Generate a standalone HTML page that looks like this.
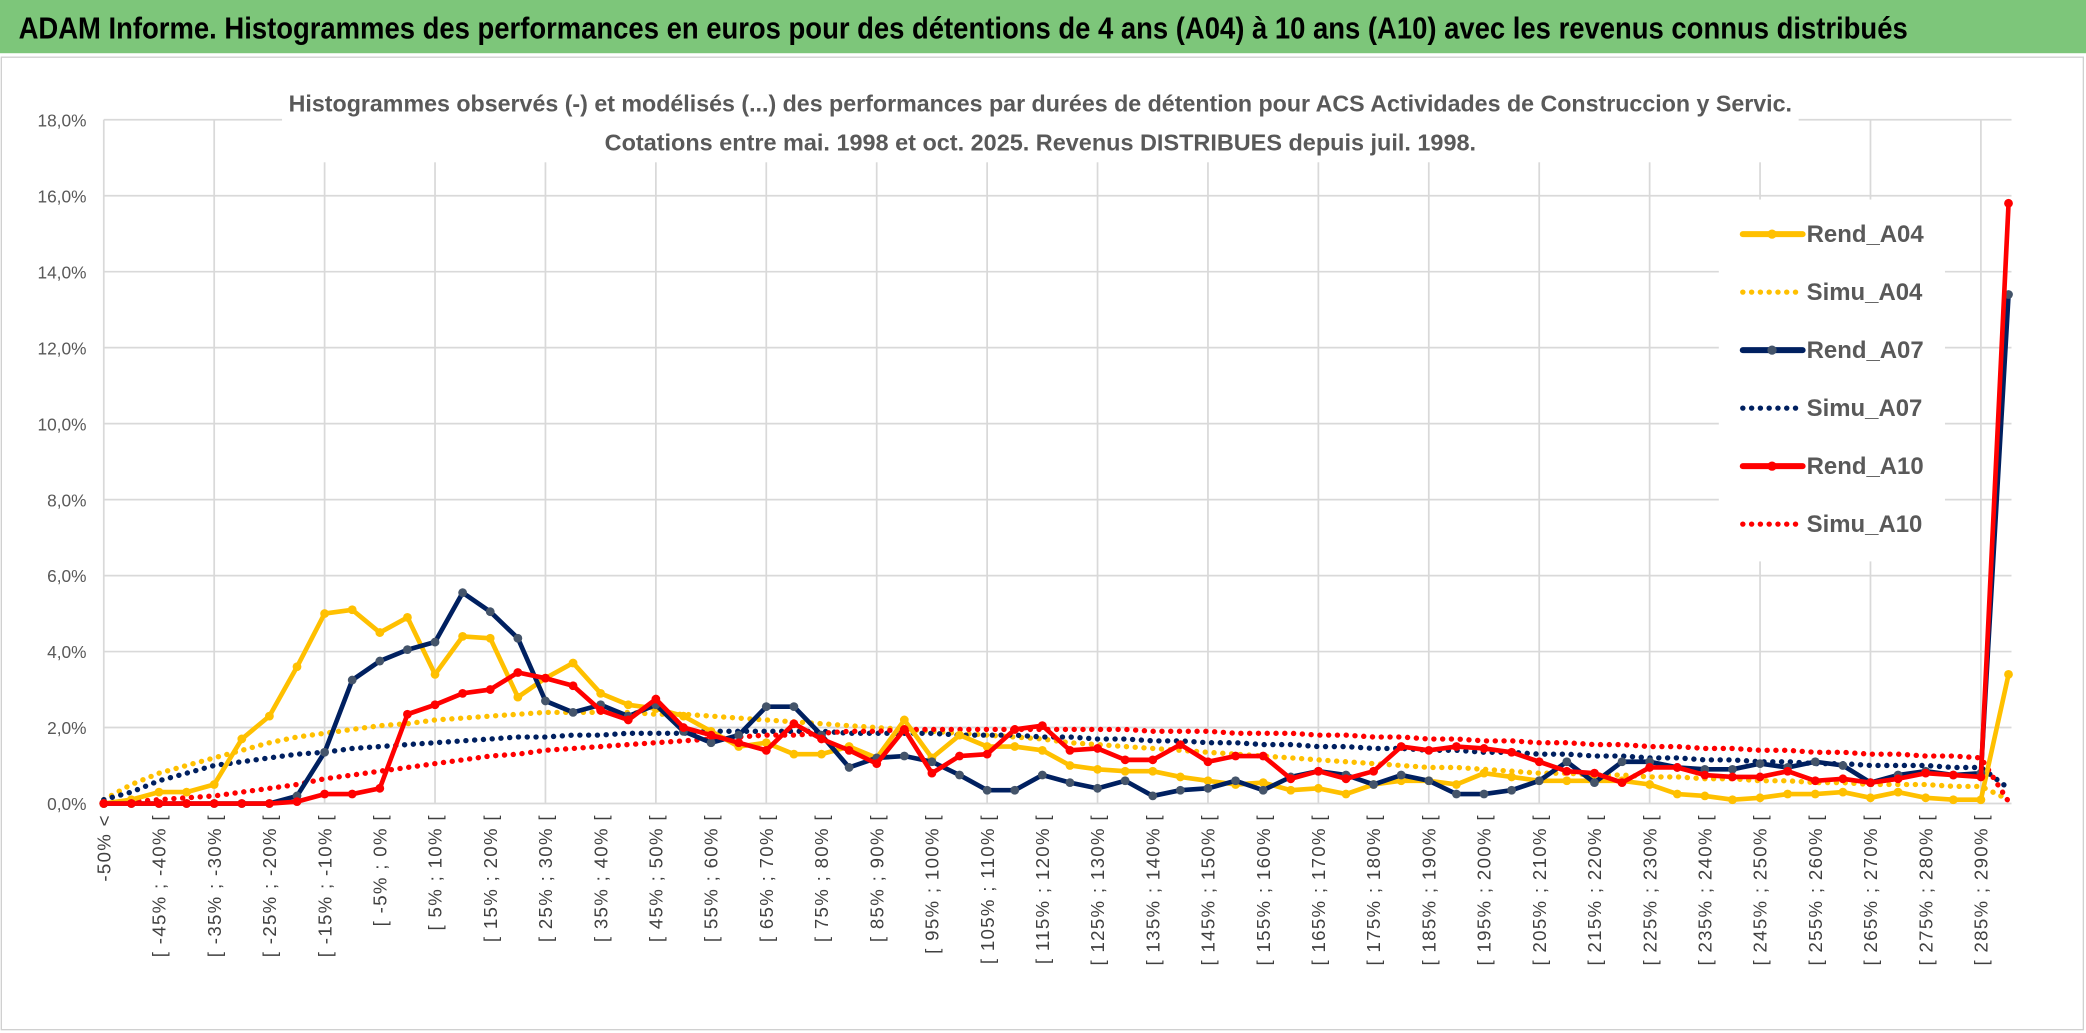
<!DOCTYPE html>
<html><head><meta charset="utf-8"><style>
html,body{margin:0;padding:0;background:#fff;width:2086px;height:1033px;overflow:hidden}
svg{display:block}
text{font-family:"Liberation Sans",sans-serif}
</style></head><body>
<svg id="c" width="2086" height="1033" viewBox="0 0 1568 776.5" preserveAspectRatio="none" xmlns="http://www.w3.org/2000/svg">
<rect x="0" y="0" width="1568" height="776.5" fill="#fff"/>
<rect x="0" y="0" width="1568" height="40" fill="#7DC67A"/>
<text x="14" y="29" font-size="23" font-weight="bold" fill="#000" textLength="1420" lengthAdjust="spacingAndGlyphs">ADAM Informe. Histogrammes des performances en euros pour des détentions de 4 ans (A04) à 10 ans (A10) avec les revenus connus distribués</text>
<rect x="1" y="43" width="1565" height="731" fill="none" stroke="#d0d0d0"/>
<g id="grid"></g>
<g id="yl"></g>
<g id="xl"></g>
<g id="series"></g>
<rect x="212" y="62" width="1140" height="60" fill="#fff"/>
<text x="782" y="84" text-anchor="middle" font-size="17.5" font-weight="bold" fill="#595959" textLength="1130" lengthAdjust="spacingAndGlyphs">Histogrammes observés (-) et modélisés (...) des performances par durées de détention pour ACS Actividades de Construccion y Servic.</text>
<text x="782" y="113" text-anchor="middle" font-size="17.5" font-weight="bold" fill="#595959" textLength="655" lengthAdjust="spacingAndGlyphs">Cotations entre mai. 1998 et oct. 2025. Revenus DISTRIBUES depuis juil. 1998.</text>
<g id="legend"></g>
</svg>
<script>
const categoriesLo = [];
for (let k = 1; k < 70; k++) categoriesLo.push(-50 + 5 * (k - 1));
const yTicks = [0,2,4,6,8,10,12,14,16,18];
const rendA04 = [0,0.1,0.3,0.3,0.5,1.7,2.3,3.6,5.0,5.1,4.5,4.9,3.4,4.4,4.35,2.8,3.3,3.7,2.9,2.6,2.5,2.3,1.9,1.5,1.6,1.3,1.3,1.5,1.2,2.2,1.2,1.8,1.5,1.5,1.4,1.0,0.9,0.85,0.85,0.7,0.6,0.5,0.55,0.35,0.4,0.25,0.5,0.6,0.6,0.5,0.8,0.7,0.6,0.6,0.6,0.6,0.5,0.25,0.2,0.1,0.15,0.25,0.25,0.3,0.15,0.3,0.15,0.1,0.1,3.4];
const rendA07 = [0,0,0,0,0,0,0,0.2,1.35,3.25,3.75,4.05,4.25,5.55,5.05,4.35,2.7,2.4,2.6,2.3,2.6,1.9,1.6,1.8,2.55,2.55,1.8,0.95,1.2,1.25,1.1,0.75,0.35,0.35,0.75,0.55,0.4,0.6,0.2,0.35,0.4,0.6,0.35,0.7,0.85,0.75,0.5,0.75,0.6,0.25,0.25,0.35,0.6,1.1,0.55,1.1,1.1,0.95,0.9,0.9,1.05,0.95,1.1,1.0,0.55,0.75,0.85,0.75,0.8,13.4];
const rendA10 = [0,0,0,0,0,0,0,0.05,0.25,0.25,0.4,2.35,2.6,2.9,3.0,3.45,3.3,3.1,2.45,2.2,2.75,2.0,1.8,1.6,1.4,2.1,1.7,1.4,1.05,1.95,0.8,1.25,1.3,1.95,2.05,1.4,1.45,1.15,1.15,1.55,1.1,1.25,1.25,0.65,0.85,0.65,0.85,1.5,1.4,1.5,1.45,1.35,1.1,0.85,0.8,0.55,0.95,0.95,0.75,0.7,0.7,0.85,0.6,0.65,0.55,0.65,0.8,0.75,0.7,15.8];
const simuA04 = [0.1,0.5,0.8,1.0,1.2,1.4,1.6,1.75,1.85,1.95,2.05,2.1,2.2,2.25,2.3,2.35,2.4,2.4,2.4,2.4,2.35,2.35,2.3,2.25,2.2,2.15,2.1,2.05,2.0,1.95,1.9,1.85,1.8,1.75,1.7,1.6,1.55,1.5,1.45,1.4,1.35,1.3,1.25,1.2,1.15,1.1,1.05,1.0,0.95,0.95,0.9,0.85,0.8,0.8,0.75,0.75,0.7,0.7,0.65,0.65,0.6,0.6,0.55,0.55,0.5,0.5,0.5,0.45,0.45,0.1];
const simuA07 = [0.1,0.3,0.6,0.8,1.0,1.1,1.2,1.3,1.35,1.45,1.5,1.55,1.6,1.65,1.7,1.75,1.75,1.8,1.8,1.85,1.85,1.85,1.9,1.9,1.9,1.9,1.9,1.85,1.85,1.85,1.85,1.8,1.8,1.8,1.75,1.75,1.7,1.7,1.65,1.65,1.6,1.6,1.55,1.55,1.5,1.5,1.45,1.45,1.4,1.4,1.35,1.35,1.3,1.3,1.25,1.25,1.2,1.2,1.15,1.15,1.1,1.1,1.05,1.05,1.0,1.0,1.0,0.95,0.95,0.4];
const simuA10 = [0.0,0.05,0.1,0.15,0.2,0.3,0.4,0.5,0.65,0.75,0.85,0.95,1.05,1.15,1.25,1.3,1.4,1.45,1.5,1.55,1.6,1.65,1.7,1.75,1.8,1.8,1.85,1.9,1.9,1.95,1.95,1.95,1.95,1.95,1.95,1.95,1.95,1.95,1.9,1.9,1.9,1.85,1.85,1.85,1.8,1.8,1.75,1.75,1.7,1.7,1.65,1.65,1.6,1.6,1.55,1.55,1.5,1.5,1.45,1.45,1.4,1.4,1.35,1.35,1.3,1.3,1.25,1.25,1.2,0.05];
const NS='http://www.w3.org/2000/svg';
const X0=78, DX=20.75, Y0=604, Y18=90;
const xs=i=>X0+i*DX;
const ys=v=>Y0-(v/18)*(Y0-Y18);
function mk(t,a,p){const e=document.createElementNS(NS,t);for(const k in a)e.setAttribute(k,a[k]);p.appendChild(e);return e;}
const grid=document.getElementById('grid'), yl=document.getElementById('yl'), xl=document.getElementById('xl');
yTicks.forEach(t=>{
  const l=mk('line',{x1:X0,x2:1512,y1:ys(t),y2:ys(t),stroke:'#d9d9d9','stroke-width':1.3},grid);
  
  
  const tx=mk('text',{x:65,y:ys(t)+5,'text-anchor':'end','font-size':13,fill:'#595959'},yl);
  tx.textContent=t.toFixed(1).replace('.',',')+'%';
  
  
});
for(let i=0;i<70;i+=4){
  const l=mk('line',{x1:xs(i),x2:xs(i),y1:Y18,y2:Y0,stroke:'#d9d9d9','stroke-width':1.3},grid);
  
  
}
for(let i=0;i<70;i+=2){
  const lab = i===0 ? '-50% <' : '[ '+categoriesLo[i-1]+'% ; '+(categoriesLo[i-1]+5)+'% [';
  const tx=mk('text',{transform:`translate(${xs(i)+5},612) rotate(-90)`,'text-anchor':'end','font-size':14,fill:'#404040','letter-spacing':'1'},xl);
  tx.textContent=lab;
  
  
}
const ser=document.getElementById('series');
const defs=[
 {d:simuA04,c:'#FFC000',dot:true,n:'Simu_A04'},
 {d:simuA07,c:'#002060',dot:true,n:'Simu_A07'},
 {d:simuA10,c:'#FF0000',dot:true,n:'Simu_A10'},
 {d:rendA04,c:'#FFC000',dot:false,n:'Rend_A04'},
 {d:rendA07,c:'#002060',dot:false,n:'Rend_A07'},
 {d:rendA10,c:'#FF0000',dot:false,n:'Rend_A10'}];
defs.forEach(s=>{
  const pts=s.d.map((v,i)=>xs(i).toFixed(1)+','+ys(v).toFixed(1)).join(' ');
  const p=mk('polyline',{points:pts,fill:'none',stroke:s.c,'stroke-width':s.dot?4:3.5,'stroke-linecap':'round','stroke-linejoin':'round'},ser);
  if(s.dot){p.setAttribute('stroke-dasharray','0.1 6.5');}
  
  
  if(!s.dot){
    s.d.forEach((v,i)=>{
      const c=mk('circle',{cx:xs(i),cy:ys(v),r:3.3,fill:s.n==='Rend_A07'?'#44546A':s.c},ser);
      
      
    });
  }
});
const lg=document.getElementById('legend');
const lb=mk('rect',{x:1292,y:150,width:170,height:272,fill:'#fff'},lg);


const order=['Rend_A04','Simu_A04','Rend_A07','Simu_A07','Rend_A10','Simu_A10'];
order.forEach((n,k)=>{
  const s=defs.find(d=>d.n===n);
  const y=176+k*43.6;
  const l=mk('line',{x1:1310,x2:1355,y1:y,y2:y,stroke:s.c,'stroke-width':s.dot?4:4.5,'stroke-linecap':'round'},lg);
  if(s.dot)l.setAttribute('stroke-dasharray','0.1 6.5');
  
  
  if(!s.dot){const c=mk('circle',{cx:1332,cy:y,r:3.5,fill:n==='Rend_A07'?'#44546A':s.c},lg);}
  const t=mk('text',{x:1358,y:y+6,'font-size':18,'font-weight':'bold',fill:'#595959'},lg);
  t.textContent=n;
  
  
});
</script>
</body></html>
